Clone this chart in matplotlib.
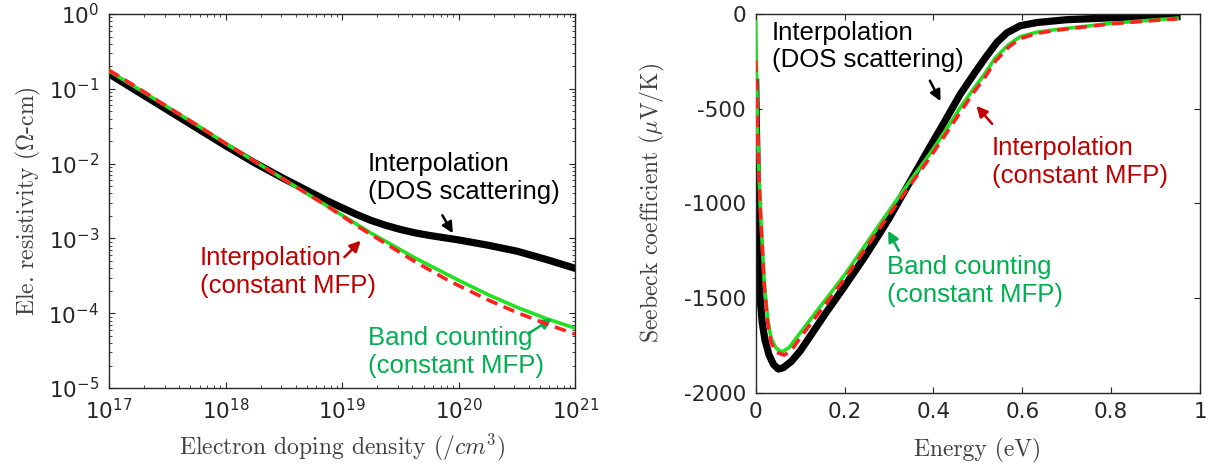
import numpy as np
import matplotlib.pyplot as plt
from matplotlib.ticker import LogLocator, NullFormatter, FixedLocator

plt.rcParams['mathtext.fontset'] = 'cm'
plt.rcParams['axes.unicode_minus'] = False
plt.rcParams['font.family'] = ['DejaVu Sans']

# ---- resistivity vs doping (log10 values) ----
log_n = [17.0, 17.25, 17.5, 17.75, 18.0, 18.25, 18.5, 18.625, 18.75, 18.875,
         19.0, 19.125, 19.25, 19.375, 19.5, 19.625, 19.75, 19.875, 20.0,
         20.25, 20.5, 20.75, 21.0]
log_rho_dos = [-0.80, -1.04, -1.28, -1.52, -1.76, -1.99, -2.20, -2.30, -2.40, -2.50,
               -2.59, -2.68, -2.76, -2.825, -2.88, -2.925, -2.96, -2.99, -3.02,
               -3.09, -3.17, -3.28, -3.40]
log_rho_band = [-0.76, -1.00, -1.24, -1.48, -1.73, -1.97, -2.21, -2.33, -2.45, -2.57,
                -2.69, -2.81, -2.93, -3.04, -3.15, -3.26, -3.36, -3.46, -3.56,
                -3.75, -3.92, -4.07, -4.20]
log_rho_mfp = [-0.75, -0.99, -1.24, -1.48, -1.73, -1.97, -2.21, -2.33, -2.45, -2.57,
               -2.70, -2.83, -2.95, -3.07, -3.19, -3.31, -3.42, -3.53, -3.63,
               -3.82, -3.99, -4.14, -4.28]

# ---- Seebeck vs energy ----
E_dos = [0.0, 0.002, 0.0059, 0.0097, 0.015, 0.0209, 0.03, 0.04, 0.051, 0.062,
         0.08, 0.1, 0.126, 0.156, 0.201, 0.246, 0.276, 0.3, 0.351, 0.39, 0.426,
         0.46, 0.4917, 0.5165, 0.5427, 0.565, 0.595, 0.633, 0.70, 0.80, 0.948]
S_dos = [-360, -650, -1194, -1493, -1633, -1721, -1800, -1850, -1875, -1868,
         -1835, -1780, -1690, -1585, -1435, -1280, -1170, -1080, -870, -710, -565,
         -425, -315, -232, -150, -100, -62, -45, -30, -20, -14]
E_band = [0.0, 0.0044, 0.0097, 0.0149, 0.0195, 0.027, 0.0345, 0.045, 0.0585,
          0.075, 0.1, 0.137, 0.17, 0.201, 0.276, 0.3, 0.351, 0.39, 0.426, 0.46,
          0.4917, 0.5143, 0.539, 0.569, 0.595, 0.633, 0.67, 0.70, 0.798, 0.948]
S_band = [-40, -630, -982, -1220, -1420, -1610, -1710, -1762, -1785,
          -1762, -1685, -1570, -1470, -1375, -1120, -1040, -870, -745, -620, -495,
          -390, -320, -232, -162, -120, -96, -84, -76, -50, -22]
E_mfp = [0.0, 0.004, 0.0097, 0.0149, 0.0195, 0.027, 0.0345, 0.045, 0.064,
         0.08, 0.1, 0.145, 0.201, 0.276, 0.3, 0.351, 0.39, 0.426, 0.46,
         0.4917, 0.5143, 0.539, 0.569, 0.595, 0.633, 0.67, 0.70, 0.798, 0.948]
S_mfp = [-245, -620, -1000, -1230, -1440, -1630, -1730, -1785, -1801,
         -1778, -1710, -1570, -1395, -1140, -1060, -893, -765, -640, -520,
         -410, -340, -250, -175, -130, -102, -88, -79, -52, -25]

BLACK = '#000000'
GREEN = '#22E022'
RED = '#FF2020'
TXT_RED = '#C00000'
TXT_GREEN = '#00B050'
AX_COL = '#262626'
LAB_COL = '#404040'

fig = plt.figure(figsize=(12.11, 4.67), dpi=100)
ax1 = fig.add_axes([0.090, 0.169, 0.385, 0.801])
ax2 = fig.add_axes([0.624, 0.159, 0.367, 0.811])

lab_font = dict(family=['cmr10', 'DejaVu Serif'], size=17, color=LAB_COL)
ann_font = dict(family=['Liberation Sans', 'DejaVu Sans'], size=18.5)


def arrow(ax, tip, tail, col):
    ax.annotate('', xy=tip, xytext=tail,
                arrowprops=dict(arrowstyle='-|>', color=col, lw=1.8,
                                mutation_scale=16, shrinkA=0, shrinkB=0))


# left panel
n = 10.0 ** np.array(log_n)
ax1.plot(n, 10.0 ** np.array(log_rho_dos), color=BLACK, lw=5.2, zorder=2)
ax1.plot(n, 10.0 ** np.array(log_rho_band), color=GREEN, lw=2.6, zorder=3)
ax1.plot(n, 10.0 ** np.array(log_rho_mfp), color=RED, lw=2.6, zorder=4,
         dashes=(3.2, 1.9))
ax1.set_xscale('log')
ax1.set_yscale('log')
ax1.set_xlim(1e17, 1e21)
ax1.set_ylim(1e-5, 1e0)
ax1.xaxis.set_major_locator(LogLocator(base=10, numticks=10))
ax1.yaxis.set_major_locator(LogLocator(base=10, numticks=10))
for axis in (ax1.xaxis, ax1.yaxis):
    axis.set_minor_locator(LogLocator(base=10, subs=np.arange(2, 10), numticks=50))
    axis.set_minor_formatter(NullFormatter())
ax1.set_xlabel('Electron doping density $(/cm^3)$', labelpad=6, **lab_font)
ax1.set_ylabel(r'Ele. resistivity ($\Omega$-cm)', labelpad=4, **lab_font)

arrow(ax1, (10 ** 19.95, 10 ** -2.93), (10 ** 19.86, 10 ** -2.69), BLACK)
ax1.text(10 ** 19.22, 10 ** -2.19, 'Interpolation\n(DOS scattering)', color=BLACK,
         ha='left', va='center', **ann_font)
arrow(ax1, (10 ** 19.16, 10 ** -3.03), (10 ** 19.02, 10 ** -3.25), TXT_RED)
ax1.text(10 ** 17.78, 10 ** -3.445, 'Interpolation\n(constant MFP)', color=TXT_RED,
         ha='left', va='center', **ann_font)
arrow(ax1, (10 ** 20.80, 10 ** -4.07), (10 ** 20.60, 10 ** -4.27), TXT_GREEN)
ax1.text(10 ** 19.226, 10 ** -4.515, 'Band counting\n(constant MFP)', color=TXT_GREEN,
         ha='left', va='center', **ann_font)

# right panel
ax2.plot(E_dos, S_dos, color=BLACK, lw=5.2, zorder=2)
ax2.plot(E_band, S_band, color=GREEN, lw=2.6, zorder=3)
ax2.plot(E_mfp, S_mfp, color=RED, lw=2.6, zorder=4, dashes=(3.2, 1.9))
ax2.set_xlim(0, 1)
ax2.set_ylim(-2000, 0)
ax2.xaxis.set_major_locator(FixedLocator([0, 0.2, 0.4, 0.6, 0.8, 1.0]))
ax2.yaxis.set_major_locator(FixedLocator([-2000, -1500, -1000, -500, 0]))
ax2.set_xticklabels(['0', '0.2', '0.4', '0.6', '0.8', '1'])
ax2.set_xlabel('Energy (eV)', labelpad=11, **lab_font)
ax2.set_ylabel(r'Seebeck coefficient ($\mu$V/K)', labelpad=12, **lab_font)

arrow(ax2, (0.416, -460), (0.392, -352), BLACK)
ax2.text(0.036, -172, 'Interpolation\n(DOS scattering)', color=BLACK,
         ha='left', va='center', **ann_font)
arrow(ax2, (0.497, -485), (0.532, -580), TXT_RED)
ax2.text(0.5315, -780, 'Interpolation\n(constant MFP)', color=TXT_RED,
         ha='left', va='center', **ann_font)
arrow(ax2, (0.298, -1145), (0.322, -1250), TXT_GREEN)
ax2.text(0.295, -1409, 'Band counting\n(constant MFP)', color=TXT_GREEN,
         ha='left', va='center', **ann_font)

for ax in (ax1, ax2):
    for s in ax.spines.values():
        s.set_color(AX_COL)
        s.set_linewidth(1.0)
    ax.tick_params(which='both', direction='in', top=True, right=True,
                   colors=AX_COL, labelsize=15.5)
    ax.tick_params(which='major', length=4.5, width=0.8, pad=7)
    ax.tick_params(which='minor', length=2.4, width=0.6)

fig.savefig('out.png', dpi=100)
